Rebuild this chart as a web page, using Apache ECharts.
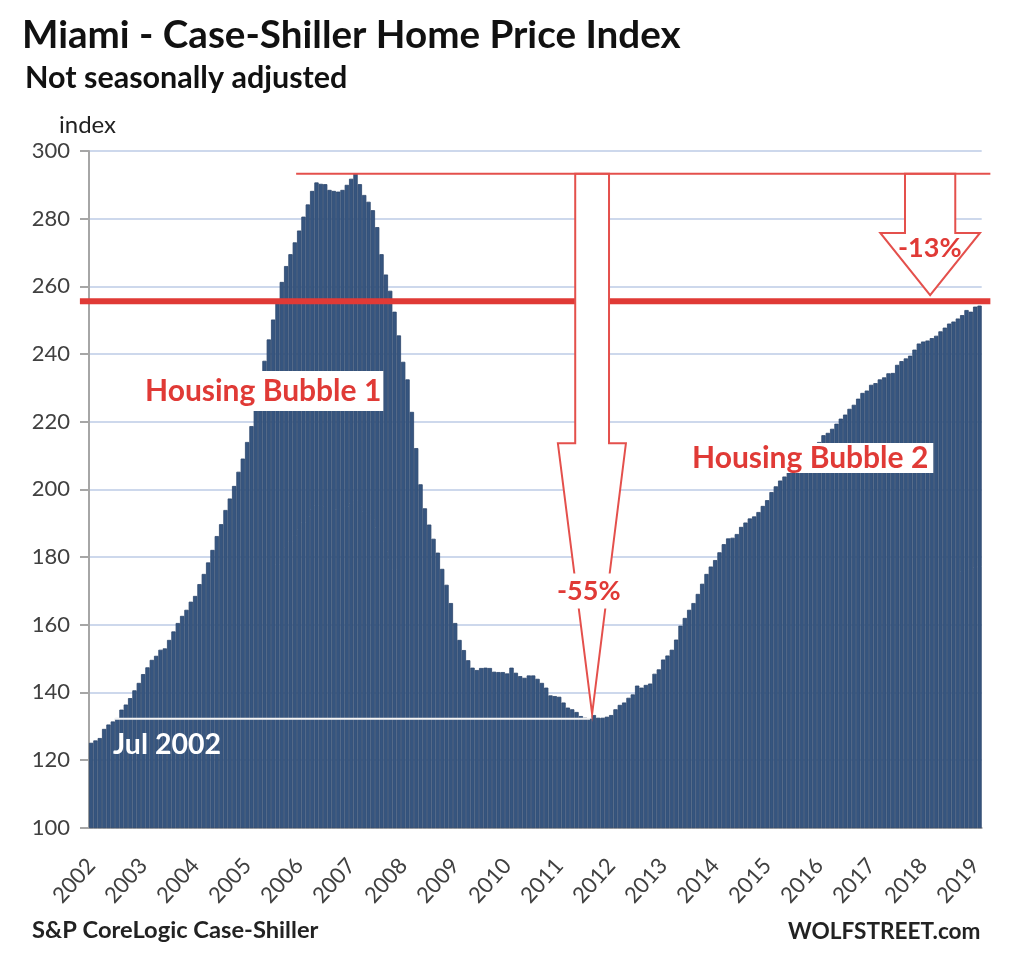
<!DOCTYPE html>
<html>
<head>
<meta charset="utf-8">
<style>
html, body { margin: 0; padding: 0; background: #fff; }
#chart-area { width: 1024px; height: 980px; }
</style>
<script src="https://cdn.jsdelivr.net/npm/echarts@6/dist/echarts.min.js"></script>
</head>
<body>
<div id="chart-area"></div>
<script>
// monthly index, one row per year
var years = ['2002','2003','2004','2005','2006','2007','2008','2009','2010','2011','2012','2013','2014','2015','2016','2017','2018','2019'];
var values2002 = [125.1,125.8,126.5,129.2,130.5,131.4,132.4,134.9,136.4,138.3,140.6,142.8];
var values2003 = [145.4,147.4,149.6,150.8,152.6,153,155.5,158,160.5,162.6,164.4,166.8];
var values2004 = [168.5,172,175,178.4,182.1,186.2,189.7,193.9,197.3,201,205.2,209.1];
var values2005 = [214,218.7,226,234.5,238,244.3,250.2,255.5,261.3,266,269.5,273];
var values2006 = [276.5,280.6,284.2,288.2,290.7,290.3,290.2,288.5,288.2,288,288.5,290];
var values2007 = [291.8,293.3,290.2,287,285,282.5,277.5,269.5,263.5,258.7,252.5,245.5];
var values2008 = [237.7,232.5,222.9,212.2,201.5,194.4,189.6,185.4,181.3,176.5,171.8,166.4];
var values2009 = [160.5,155.5,152.5,149.5,147.3,146.6,147.2,147.3,147.2,146.1,146,146];
var values2010 = [145.6,147.3,145.8,144.8,144.3,145,145,144,142.8,141.4,139.1,138.9];
var values2011 = [138.7,137,135.5,135,134.2,133,132.5,132.2,133.3,132.5,132.5,132.8];
var values2012 = [133.3,135,136.3,137,138.4,139.4,142,141.4,142.2,142.6,145.5,146.8];
var values2013 = [149.7,150.9,152.6,155.6,159.7,162,164.4,166.4,169.1,172.1,175,177.2];
var values2014 = [179.1,181.4,183.8,185.5,185.7,186.8,188.9,190.2,191.4,192,193.3,195.1];
var values2015 = [196.8,199.2,200.9,202.6,203.8,205,206,207,208,209.5,211,212.5];
var values2016 = [214,216,216.7,217.9,219.4,220.9,222.1,223.8,225,226.8,228.5,229.2];
var values2017 = [230.9,231.4,232.5,233.1,234.3,234.4,236.8,237.9,238.7,239.5,241.3,243.1];
var values2018 = [243.7,244,244.7,245.4,246.7,247.8,249,249.6,250.5,251.5,253,252.5];
var values2019 = [254,254.3];

var priceIndex = [].concat(values2002, values2003, values2004, values2005, values2006, values2007,
    values2008, values2009, values2010, values2011, values2012, values2013, values2014, values2015,
    values2016, values2017, values2018, values2019);

// one category per month, labelled with its year
var months = priceIndex.map(function(v, i){
    return years[Math.floor(i / 12)];
});

var FONT = 'Lato';
var RED = '#e03a36';

// helper: a shape drawn in data units on the hidden month axis
function shape(points, z, style){
    return {
        type: 'custom',
        xAxisIndex: 1,
        yAxisIndex: 0,
        z: z,
        silent: true,
        clip: false,
        data: [0],
        renderItem: function(params, api){
            var pts = points.map(function(p){ return api.coord(p); });
            return { type: style.fill ? 'polygon' : 'polyline', shape: { points: pts }, style: style };
        }
    };
}

function text(str, x, y, size, color, opts){
    var s = { text: str, x: x, y: y, fontFamily: FONT, fontSize: size, fontWeight: 'bold', fill: color,
              textAlign: 'left', textVerticalAlign: 'middle' };
    for(var k in opts){ s[k] = opts[k]; }
    return { type: 'text', z: 100, silent: true, style: s };
}

var series = [
    {
        type: 'bar',
        data: priceIndex,
        barCategoryGap: 0,
        silent: true,
        z: 2,
        itemStyle: { color: '#36557f', borderColor: '#2c466c', borderWidth: 0.8 }
    },
    // 256 line, the Bubble 1 trigger level
    shape([[-2.1, 255.6], [208, 255.6]], 3, { stroke: RED, lineWidth: 6, fill: null }),
    // white line from the trough back to Jul 2002
    shape([[6, 132.2], [115.6, 132.2]], 3, { stroke: '#f4f4f4', lineWidth: 2, fill: null }),
    // -55% arrow
    shape([[112.2, 293.3], [120, 293.3], [120, 213.6], [123.9, 213.6], [116.1, 133.6], [108.2, 213.6], [112.2, 213.6]],
        4, { fill: '#fff', stroke: '#e4504c', lineWidth: 2 }),
    // -13% arrow
    shape([[188.3, 293.3], [199.9, 293.3], [199.9, 275.8], [205.6, 275.8], [194.1, 257.4], [182.6, 275.8], [188.3, 275.8]],
        4, { fill: '#fff', stroke: '#e4504c', lineWidth: 2 }),
    // line across the peak
    shape([[47.8, 293.3], [208, 293.3]], 5, { stroke: '#e4504c', lineWidth: 2, fill: null })
];

var option = {
    animation: false,
    backgroundColor: '#fff',
    textStyle: { fontFamily: FONT },
    grid: { left: 89, right: 42.3, top: 151, bottom: 152.3, containLabel: false },
    xAxis: [
        {
            type: 'category',
            data: months,
            boundaryGap: true,
            axisLine: { lineStyle: { color: '#a6a6a6', width: 2 } },
            axisTick: { interval: 11, length: 8, lineStyle: { color: '#a6a6a6', width: 2 } },
            axisLabel: { interval: 11, rotate: 48, margin: 34, fontSize: 22, color: '#404040', fontFamily: FONT }
        },
        { type: 'value', min: 0, max: 206, show: false }
    ],
    yAxis: {
        type: 'value',
        min: 100,
        max: 300,
        interval: 20,
        axisLine: { show: true, lineStyle: { color: '#a6a6a6', width: 2 } },
        axisTick: { show: true, length: 9, lineStyle: { color: '#a6a6a6', width: 2 } },
        axisLabel: { margin: 19, fontSize: 22, color: '#404040', fontFamily: FONT },
        splitLine: { lineStyle: { color: '#cdd8ec', width: 2 } }
    },
    series: series,
    graphic: [
        text('Miami - Case-Shiller Home Price Index', 22, 36, 38.6, '#111'),
        text('Not seasonally adjusted', 25, 78, 30.5, '#111'),
        text('index', 59, 125, 24, '#222', { fontWeight: 'normal' }),
        text('Housing Bubble 1', 145, 391, 30, RED, { backgroundColor: '#fff', padding: [5, 2, 5, 0] }),
        text('Housing Bubble 2', 692, 458, 30, RED, { backgroundColor: '#fff', padding: [0, 5, 0, 0] }),
        text('-55%', 557, 591, 27, RED, { backgroundColor: '#fff', padding: [4, 0, 4, 0] }),
        text('-13%', 898, 248, 27, RED),
        text('Jul 2002', 113, 745, 28.5, '#fff'),
        text('S&P CoreLogic Case-Shiller', 32, 930, 23.7, '#222'),
        text('WOLFSTREET.com', 788, 932, 22.6, '#222')
    ]
};

var chart = echarts.init(document.getElementById('chart-area'), null, { renderer: 'canvas' });
chart.setOption(option);
</script>
</body>
</html>
